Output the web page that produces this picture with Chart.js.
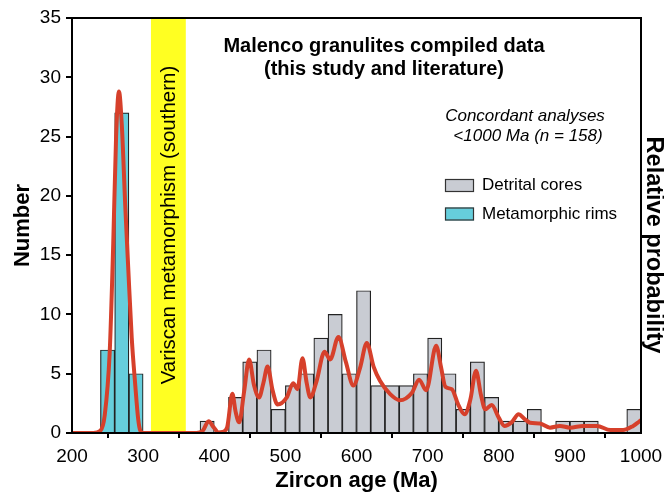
<!DOCTYPE html>
<html>
<head>
<meta charset="utf-8">
<script src="https://cdn.jsdelivr.net/npm/chart.js@4"></script>
<style>
html,body{margin:0;padding:0;background:#fff;}
#wrap{width:664px;height:498px;}
</style>
</head>
<body>
<div id="wrap"><canvas id="c" width="664" height="498"></canvas></div>
<script>
// ---- Data ----
const binCenters = [250,270,290,390,410,430,450,470,490,510,530,550,570,590,610,630,650,670,690,710,730,750,770,790,810,830,850,870,890,910,930,950,970,990];
const rimCounts   = [7,27,5, null,null,null,null,null,null,null,null,null,null,null,null,null,null,null,null,null,null,null,null,null,null,null,null,null,null,null,null,null,null,null];
const coreCounts  = [null,null,null, 1,0,3,6,7,2,4,5,8,10,5,12,4,4,4,5,8,5,2,6,3,1,1,2,0,1,1,1,0,0,2];
const curveAges = [200,230,240,246,253,258,262,266,270,275,279,284,289,293,296,300,320,375,384,392,399,406,412,418,425.5,430,435,442,449,456,463,469,475,482,489,502,511,517,524,530,535,544,555,563,574.6,585,595.6,605,614.5,624,633,647,661,678,688,698,712,719,725,734,743,752,760,768,775,781,790,800,808,818,828,836,844,858,872,886,900,919,938,957,975,989,995,1000];
const curveProb = [0,0,0.2,1.5,6.8,16,25,28.8,26,19,14,8,4,1.2,0.2,0,0,0,0.2,1.0,0.5,0.05,0.1,0.45,3.3,1.8,0.9,3.5,6.2,4.0,3.0,4.2,5.6,3.6,2.4,3.0,4.2,3.7,6.3,4.2,3.0,4.4,6.85,6.2,8.1,6.0,4.0,5.5,7.6,5.6,4.4,3.3,2.76,3.4,4.5,3.6,7.35,5.5,3.9,3.7,2.4,1.58,2.8,5.24,3.2,2.0,2.37,1.3,0.6,0.9,1.58,1.2,0.87,0.8,0.45,0.6,0.45,0.6,0.6,0.25,0.25,0.6,0.85,1.1];
const xTicks = [200,300,400,500,600,700,800,900,1000];
const yTicks = [0,5,10,15,20,25,30,35];
const bandStart = 311, bandEnd = 360;
const titleLines = ["Malenco granulites compiled data","(this study and literature)"];
const noteLines = ["Concordant analyses","<1000 Ma (n = 158)"];
const bandLabel = "Variscan metamorphism (southern)";
const rightTitle = "Relative probability";
const legendItems = [
  {label:"Detrital cores", fill:"#c9ccd3"},
  {label:"Metamorphic rims", fill:"#66cedc"}
];

const rimData = binCenters.map((x,i)=>rimCounts[i]==null?null:{x:x,y:rimCounts[i]}).filter(Boolean);
const coreData = binCenters.map((x,i)=>coreCounts[i]==null?null:{x:x,y:coreCounts[i]}).filter(Boolean);
const curveData = curveAges.map((x,i)=>({x:x,y:curveProb[i]}));

const FONT = "'Liberation Sans', Arial, sans-serif";

const decor = {
  id:'decor',
  beforeDatasetsDraw(chart){
    const {ctx, chartArea:a, scales:{x}} = chart;
    const x0 = x.getPixelForValue(bandStart), x1 = x.getPixelForValue(bandEnd);
    ctx.save();
    ctx.fillStyle = '#ffff22';
    ctx.fillRect(x0, a.top, x1-x0, a.bottom-a.top);
    ctx.translate((x0+x1)/2 + 1, 225);
    ctx.rotate(-Math.PI/2);
    ctx.fillStyle = '#000';
    ctx.font = "20.5px " + FONT;
    ctx.textAlign = 'center';
    ctx.textBaseline = 'middle';
    ctx.fillText(bandLabel, 0, 0);
    ctx.restore();
  },
  afterDraw(chart){
    const {ctx, chartArea:a} = chart;
    ctx.save();
    ctx.strokeStyle = '#000';
    ctx.lineWidth = 2;
    ctx.strokeRect(a.left, a.top, a.right-a.left, a.bottom-a.top);
    ctx.fillStyle = '#000';
    ctx.textAlign = 'center';
    ctx.textBaseline = 'middle';
    ctx.font = "bold 20px " + FONT;
    ctx.fillText(titleLines[0], 384, 46);
    ctx.fillText(titleLines[1], 384, 69);
    ctx.font = "italic 17px " + FONT;
    ctx.fillText(noteLines[0], 525, 116);
    ctx.fillText(noteLines[1], 528, 136);
    ctx.textAlign = 'left';
    ctx.font = "17px " + FONT;
    legendItems.forEach((it,i)=>{
      const y = 185.5 + i*28.5;
      ctx.fillStyle = it.fill;
      ctx.fillRect(445, y-6.5, 29, 13);
      ctx.strokeStyle = '#333';
      ctx.lineWidth = 1.2;
      ctx.strokeRect(445.5, y-6, 28, 12);
      ctx.fillStyle = '#000';
      ctx.fillText(it.label, 482, y);
    });
    // right axis title
    ctx.save();
    ctx.translate(653, 245);
    ctx.rotate(Math.PI/2);
    ctx.textAlign = 'center';
    ctx.textBaseline = 'middle';
    ctx.font = "bold 23.5px " + FONT;
    ctx.fillText(rightTitle, 0, 0);
    ctx.restore();
    ctx.restore();
  }
};

new Chart(document.getElementById('c'), {
  type:'bar',
  data:{
    datasets:[
      {type:'line', label:'Probability', data:curveData, yAxisID:'y2', borderColor:'#d6402b', borderWidth:4, pointRadius:0, cubicInterpolationMode:'monotone', fill:false, order:0},
      {label:'Detrital cores', data:coreData, backgroundColor:'#c9ccd3', borderColor:'#222', borderWidth:1.2, barPercentage:1, categoryPercentage:1, grouped:false, order:2},
      {label:'Metamorphic rims', data:rimData, backgroundColor:'#66cedc', borderColor:'#222', borderWidth:1.2, barPercentage:1, categoryPercentage:1, grouped:false, order:1}
    ]
  },
  options:{
    responsive:false,
    animation:false,
    layout:{padding:{top:18,left:0,right:0,bottom:0}},
    plugins:{legend:{display:false}, tooltip:{enabled:false}},
    scales:{
      x:{type:'linear', min:200, max:1000, offset:false,
        afterBuildTicks(s){ s.ticks = xTicks.map(v=>({value:v})); },
        afterFit(s){ s.height = 65; s.paddingLeft = 0; s.paddingRight = 0; },
        grid:{drawOnChartArea:false, tickLength:5, color:'#000', lineWidth:2},
        border:{color:'#000', width:2},
        ticks:{color:'#000', font:{family:FONT, size:19}, padding:7, maxRotation:0, callback:v=>String(v)},
        title:{display:true, text:'Zircon age (Ma)', color:'#000', font:{family:FONT, size:22, weight:'bold'}, padding:{top:-3}}
      },
      y:{type:'linear', position:'left', min:0, max:35,
        afterBuildTicks(s){ s.ticks = yTicks.map(v=>({value:v})); },
        afterFit(s){ s.width = 72; s.paddingTop = 0; s.paddingBottom = 0; },
        grid:{drawOnChartArea:false, tickLength:6, color:'#000', lineWidth:2},
        border:{color:'#000', width:2},
        ticks:{color:'#000', font:{family:FONT, size:19}, padding:5},
        title:{display:true, text:'Number', color:'#000', font:{family:FONT, size:22, weight:'bold'}, padding:{top:10,bottom:0}}
      },
      y2:{type:'linear', position:'right', min:0, max:35,
        afterFit(s){ s.width = 23; },
        grid:{display:false},
        border:{color:'#000', width:2},
        ticks:{display:false},
        title:{display:false}
      }
    }
  },
  plugins:[decor]
});
</script>
</body>
</html>
